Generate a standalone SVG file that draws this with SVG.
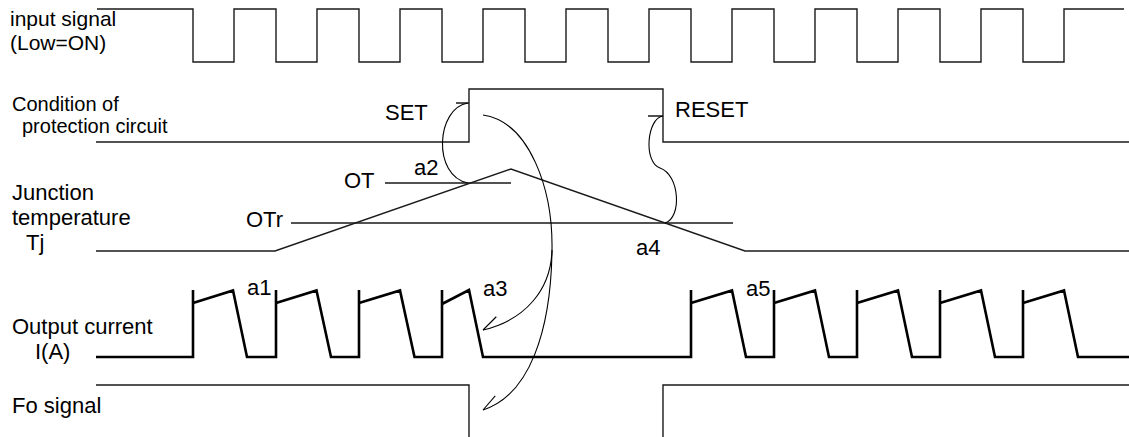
<svg xmlns="http://www.w3.org/2000/svg" width="1129" height="437" viewBox="0 0 1129 437">
<style>
text{font-family:"Liberation Sans",Arial,sans-serif;font-size:22px;fill:#000}
.sm{font-size:20px}
.in{font-size:21px}
.w{fill:none;stroke:#1a1a1a;stroke-width:1.4}
.cur{fill:none;stroke:#000;stroke-width:2.6;stroke-linejoin:miter}
.c{fill:none;stroke:#000;stroke-width:1.1}
</style>
<defs>
<marker id="barb" markerUnits="userSpaceOnUse" orient="auto" markerWidth="40" markerHeight="40" refX="0" refY="0" viewBox="-20 -20 40 40" overflow="visible">
<path d="M0,0 L-16,9.8" fill="none" stroke="#000" stroke-width="1.1"/>
</marker>
</defs>
<rect width="1129" height="437" fill="#fff"/>
<g id="labels">
<text class="in" x="10" y="26">input signal</text>
<text class="in" x="10" y="50">(Low=ON)</text>
<text class="sm" x="12" y="111">Condition of</text>
<text class="sm" x="22" y="133">protection circuit</text>
<text x="12" y="200">Junction</text>
<text x="12" y="225">temperature</text>
<text x="26" y="250">Tj</text>
<text x="12" y="334">Output current</text>
<text x="35" y="359">I(A)</text>
<text x="12" y="413">Fo signal</text>
</g>
<g id="input-signal">
<path class="w" d="M97,9 H193 V62 H234 V9 H276 V62 H317 V9 H359 V62 H400 V9 H442 V62 H483 V9 H525 V62 H566 V9 H608 V62 H649 V9 H691 V62 H732 V9 H774 V62 H815 V9 H857 V62 H898 V9 H940 V62 H981 V9 H1023 V62 H1064 V9 H1124"/>
</g>
<g id="protection-circuit">
<path class="w" d="M96,142 H469 V89 H663 V142 H1129"/>
<path class="w" d="M456,103 H469 M648,116 H663"/>
<text x="385" y="120">SET</text>
<text x="675" y="117">RESET</text>
</g>
<g id="junction-temperature">
<path class="w" d="M96,251 H275 L511,169 L745,251 H1129"/>
<path class="w" d="M385,183 H511 M291,223 H733"/>
<text x="344" y="188">OT</text>
<text x="414" y="175">a2</text>
<text x="246" y="227">OTr</text>
<text x="636" y="255">a4</text>
</g>
<g id="output-current">
<path class="cur" d="M96,357 H193 V290 M193,303 L233,290.5 L247,357 H276 V290 M276,303 L316.5,290.5 L331,357 H359 V290 M359,303 L400,290.5 L414.5,357 H442 V290 M442,304 L469,290 L483,357 H691 V290 M691,303 L732,290.5 L746,357 H774 V290 M774,303 L815,290.5 L829,357 H857 V290 M857,303 L898,290.5 L912,357 H940 V290 M940,303 L981,290.5 L995,357 H1023 V290 M1023,303 L1064,290.5 L1078,357 H1129"/>
<text x="247" y="295">a1</text>
<text x="483" y="296">a3</text>
<text x="746" y="296">a5</text>
</g>
<g id="fo-signal">
<path class="w" d="M96,385 H469 V437 M663,437 V385 H1129"/>
</g>
<g id="connectors">
<path class="c" d="M468,103 C436,108 432,176 468,183"/>
<path class="c" d="M663,116 C647,118 643,162 660,168 C680,175 682,218 665,223"/>
<path class="c" d="M483,115 C530,122 553,190 552,250 C551,290 525,320 483,330" marker-end="url(#barb)"/>
<path class="c" d="M552,250 C551,330 530,395 483,410" marker-end="url(#barb)"/>
</g>
</svg>
